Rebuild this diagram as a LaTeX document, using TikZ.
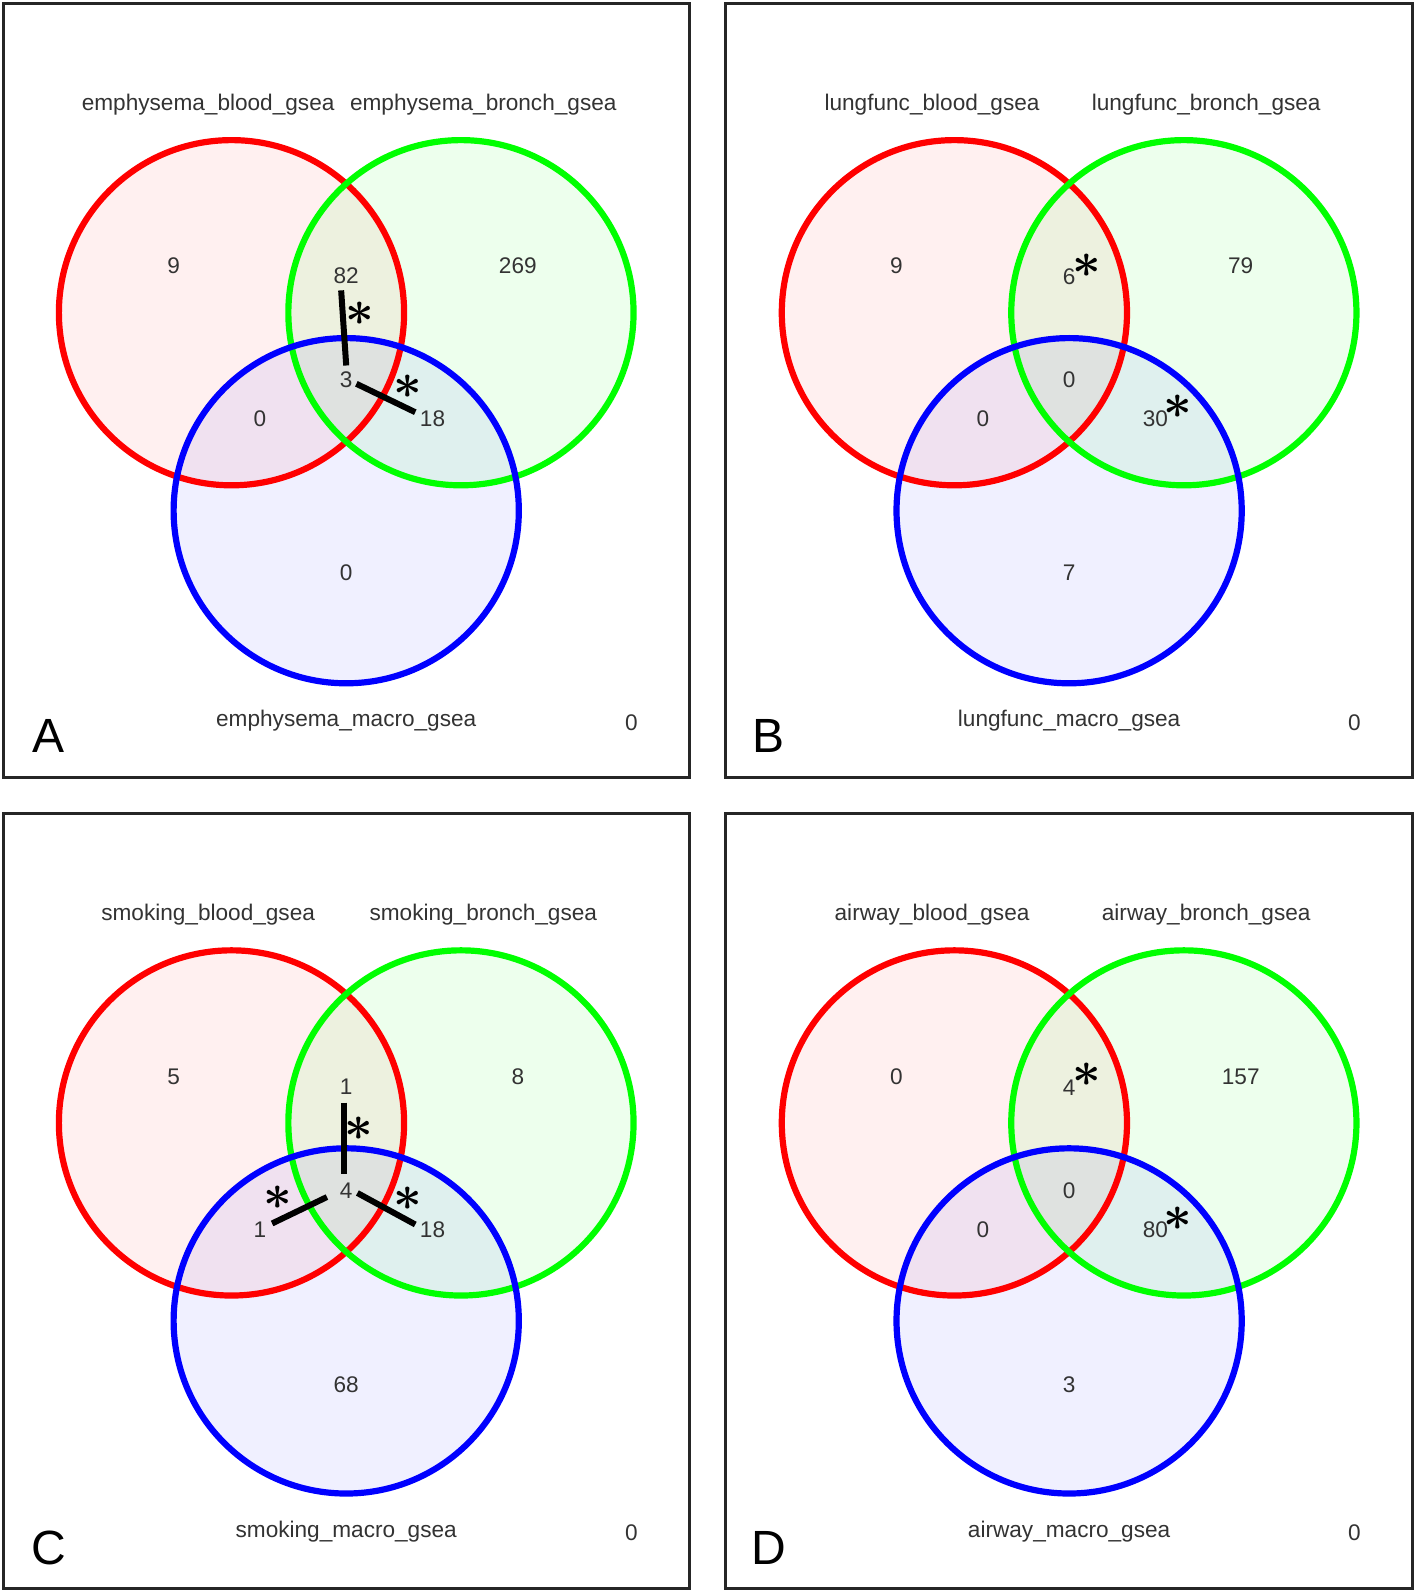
\documentclass[tikz,border=0pt]{standalone}
\usepackage{fontspec}
\setmainfont{Liberation Sans}
\definecolor{vred}{RGB}{255,0,0}
\definecolor{vgreen}{RGB}{0,255,0}
\definecolor{vblue}{RGB}{0,0,255}
\begin{document}
\begin{tikzpicture}[x=0.50753pt,y=-0.50753pt,
  frame/.style={draw=black!85,line width=1.5pt},
  fr/.style={fill=vred,fill opacity=0.06},
  fg/.style={fill=vgreen,fill opacity=0.07},
  fb/.style={fill=vblue,fill opacity=0.06},
  sr/.style={draw=vred,line width=3.1pt},
  sg/.style={draw=vgreen,line width=3.1pt},
  sb/.style={draw=vblue,line width=3.1pt},
  lbl/.style={font=\fontsize{11.3}{13}\selectfont,text=black!80,inner sep=0pt,anchor=base},
  num/.style={font=\fontsize{11.3}{13}\selectfont,text=black!80,inner sep=0pt},
  big/.style={font=\fontsize{24}{28}\selectfont,inner sep=0pt},
  star/.style={font=\fontsize{23}{28}\selectfont\boldmath,inner sep=0pt},
  bar/.style={line width=3pt,black}]
\useasboundingbox (0,0) rectangle (1394,1568);
\fill[white] (0,0) rectangle (1394,1568);

% ---------- Panel A ----------
\begin{scope}
\draw[frame] (3,3) rectangle (679,766);
\fill[fr] (228,308) circle[radius=170];
\fill[fg] (454,308) circle[radius=170];
\fill[fb] (341,503) circle[radius=170];
\draw[sr] (228,308) circle[radius=170];
\draw[sg] (454,308) circle[radius=170];
\draw[sb] (341,503) circle[radius=170];
\node[lbl] (a-l1) at (205,109) {emphysema\_blood\_gsea};
\node[lbl] (a-l2) at (476,109) {emphysema\_bronch\_gsea};
\node[lbl] (a-l3) at (341,716) {emphysema\_macro\_gsea};
\node[lbl] (a-out) at (622,719) {0};
\node[num] (a-n1) at (171,261.5) {9};
\node[num] (a-n2) at (341,271.5) {82};
\node[num] (a-n3) at (510,261.5) {269};
\node[num] (a-n4) at (341,373.5) {3};
\node[num] (a-n5) at (256,412.5) {0};
\node[num] (a-n6) at (426,412.5) {18};
\node[num] (a-n7) at (341,564.5) {0};
\node[big] (a-tag) at (48,725) {A};
\coordinate (a-b1s) at (336,286); \coordinate (a-b1e) at (341,360);
\coordinate (a-b2s) at (351,378); \coordinate (a-b2e) at (409,406);
\draw[bar] (a-b1s) -- (a-b1e);
\draw[bar] (a-b2s) -- (a-b2e);
\node[star] (a-s1) at (354,309) {$\ast$};
\node[star] (a-s2) at (402,381) {$\ast$};
\end{scope}

% ---------- Panel B ----------
\begin{scope}[shift={(712,0)}]
\draw[frame] (3,3) rectangle (679,766);
\fill[fr] (228,308) circle[radius=170];
\fill[fg] (454,308) circle[radius=170];
\fill[fb] (341,503) circle[radius=170];
\draw[sr] (228,308) circle[radius=170];
\draw[sg] (454,308) circle[radius=170];
\draw[sb] (341,503) circle[radius=170];
\node[lbl] (b-l1) at (206,109) {lungfunc\_blood\_gsea};
\node[lbl] (b-l2) at (476,109) {lungfunc\_bronch\_gsea};
\node[lbl] (b-l3) at (341,716) {lungfunc\_macro\_gsea};
\node[lbl] (b-out) at (622,719) {0};
\node[num] (b-n1) at (171,261.5) {9};
\node[num] (b-n2) at (341,272.5) {6};
\node[num] (b-n3) at (510,261.5) {79};
\node[num] (b-n4) at (341,373.5) {0};
\node[num] (b-n5) at (256,412.5) {0};
\node[num] (b-n6) at (426,412.5) {30};
\node[num] (b-n7) at (341,564.5) {7};
\node[big] (b-tag) at (45,725) {B};
\node[star] (b-s1) at (358,262) {$\ast$};
\node[star] (b-s2) at (448,401) {$\ast$};
\end{scope}

% ---------- Panel C ----------
\begin{scope}[shift={(0,798)}]
\draw[frame] (3,3) rectangle (679,767);
\fill[fr] (228,308) circle[radius=170];
\fill[fg] (454,308) circle[radius=170];
\fill[fb] (341,503) circle[radius=170];
\draw[sr] (228,308) circle[radius=170];
\draw[sg] (454,308) circle[radius=170];
\draw[sb] (341,503) circle[radius=170];
\node[lbl] (c-l1) at (205,109) {smoking\_blood\_gsea};
\node[lbl] (c-l2) at (476,109) {smoking\_bronch\_gsea};
\node[lbl] (c-l3) at (341,716) {smoking\_macro\_gsea};
\node[lbl] (c-out) at (622,719) {0};
\node[num] (c-n1) at (171,262.5) {5};
\node[num] (c-n2) at (341,272.5) {1};
\node[num] (c-n3) at (510,262.5) {8};
\node[num] (c-n4) at (341,374.5) {4};
\node[num] (c-n5) at (256,413.5) {1};
\node[num] (c-n6) at (426,413.5) {18};
\node[num] (c-n7) at (341,565.5) {68};
\node[big] (c-tag) at (48,727) {C};
\coordinate (c-b1s) at (339,288); \coordinate (c-b1e) at (339,358);
\coordinate (c-b2s) at (352,377); \coordinate (c-b2e) at (409,408);
\coordinate (c-b3s) at (322,381); \coordinate (c-b3e) at (268,407);
\draw[bar] (c-b1s) -- (c-b1e);
\draw[bar] (c-b2s) -- (c-b2e);
\draw[bar] (c-b3s) -- (c-b3e);
\node[star] (c-s1) at (353,314) {$\ast$};
\node[star] (c-s2) at (402,383) {$\ast$};
\node[star] (c-s3) at (274,382) {$\ast$};
\end{scope}

% ---------- Panel D ----------
\begin{scope}[shift={(712,798)}]
\draw[frame] (3,3) rectangle (679,767);
\fill[fr] (228,308) circle[radius=170];
\fill[fg] (454,308) circle[radius=170];
\fill[fb] (341,503) circle[radius=170];
\draw[sr] (228,308) circle[radius=170];
\draw[sg] (454,308) circle[radius=170];
\draw[sb] (341,503) circle[radius=170];
\node[lbl] (d-l1) at (206,109) {airway\_blood\_gsea};
\node[lbl] (d-l2) at (476,109) {airway\_bronch\_gsea};
\node[lbl] (d-l3) at (341,716) {airway\_macro\_gsea};
\node[lbl] (d-out) at (622,719) {0};
\node[num] (d-n1) at (171,262.5) {0};
\node[num] (d-n2) at (341,273.5) {4};
\node[num] (d-n3) at (510,262.5) {157};
\node[num] (d-n4) at (341,374.5) {0};
\node[num] (d-n5) at (256,413.5) {0};
\node[num] (d-n6) at (426,413.5) {80};
\node[num] (d-n7) at (341,565.5) {3};
\node[big] (d-tag) at (45,727) {D};
\node[star] (d-s1) at (358,261) {$\ast$};
\node[star] (d-s2) at (448,402) {$\ast$};
\end{scope}
\end{tikzpicture}
\end{document}
